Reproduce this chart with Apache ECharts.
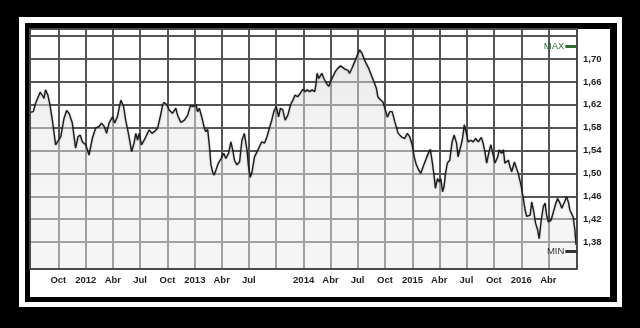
<!DOCTYPE html>
<html><head><meta charset="utf-8">
<script src="https://cdn.jsdelivr.net/npm/echarts@6/dist/echarts.min.js"></script>
<style>html,body{margin:0;padding:0;background:#000}#c{width:640px;height:328px}</style>
</head><body><div id="c"></div>
<script>
const dates = ['2011-06-30','2011-07-09','2011-07-17','2011-08-01','2011-08-08','2011-08-14','2011-08-19','2011-08-27','2011-09-03','2011-09-11','2011-09-22','2011-09-28','2011-10-09','2011-10-20','2011-10-29','2011-11-06','2011-11-11','2011-11-17','2011-11-23','2011-11-28','2011-12-06','2011-12-13','2011-12-21','2012-01-01','2012-01-12','2012-01-23','2012-02-03','2012-02-15','2012-02-23','2012-03-03','2012-03-11','2012-03-19','2012-03-31','2012-04-07','2012-04-16','2012-04-22','2012-04-28','2012-05-07','2012-05-14','2012-05-22','2012-05-29','2012-06-03','2012-06-11','2012-06-17','2012-06-23','2012-06-28','2012-07-06','2012-07-15','2012-07-26','2012-08-01','2012-08-10','2012-08-18','2012-08-29','2012-09-07','2012-09-15','2012-09-20','2012-09-29','2012-10-07','2012-10-18','2012-10-29','2012-11-04','2012-11-15','2012-11-27','2012-12-08','2012-12-17','2012-12-28','2013-01-05','2013-01-10','2013-01-16','2013-01-24','2013-02-02','2013-02-07','2013-02-13','2013-02-19','2013-02-24','2013-03-02','2013-03-07','2013-03-13','2013-03-21','2013-03-30','2013-04-08','2013-04-15','2013-04-24','2013-05-02','2013-05-08','2013-05-14','2013-05-22','2013-05-31','2013-06-08','2013-06-16','2013-06-25','2013-06-30','2013-07-06','2013-07-12','2013-07-20','2013-07-29','2013-08-06','2013-08-13','2013-08-23','2013-08-31','2013-09-08','2013-09-16','2013-09-23','2013-10-01','2013-10-09','2013-10-15','2013-10-23','2013-10-31','2013-11-09','2013-11-18','2013-11-26','2013-12-03','2013-12-12','2013-12-22','2013-12-29','2014-01-06','2014-01-13','2014-01-21','2014-01-29','2014-02-07','2014-02-12','2014-02-15','2014-02-21','2014-02-27','2014-03-03','2014-03-10','2014-03-18','2014-03-26','2014-04-01','2014-04-09','2014-04-17','2014-04-26','2014-05-05','2014-05-13','2014-05-21','2014-05-30','2014-06-04','2014-06-12','2014-06-21','2014-06-30','2014-07-08','2014-07-16','2014-07-22','2014-07-30','2014-08-07','2014-08-16','2014-08-25','2014-09-02','2014-09-07','2014-09-13','2014-09-19','2014-09-24','2014-10-02','2014-10-09','2014-10-17','2014-10-25','2014-11-03','2014-11-14','2014-11-25','2014-12-06','2014-12-15','2014-12-23','2014-12-31','2015-01-07','2015-01-14','2015-01-22','2015-01-29','2015-02-06','2015-02-14','2015-02-23','2015-03-02','2015-03-09','2015-03-15','2015-03-19','2015-03-26','2015-04-01','2015-04-06','2015-04-12','2015-04-17','2015-04-22','2015-04-28','2015-05-06','2015-05-14','2015-05-21','2015-05-29','2015-06-03','2015-06-09','2015-06-17','2015-06-24','2015-07-01','2015-07-07','2015-07-16','2015-07-24','2015-08-01','2015-08-10','2015-08-20','2015-08-26','2015-09-01','2015-09-07','2015-09-15','2015-09-21','2015-09-29','2015-10-05','2015-10-14','2015-10-19','2015-10-27','2015-11-02','2015-11-07','2015-11-13','2015-11-19','2015-11-24','2015-11-30','2015-12-09','2015-12-16','2015-12-22','2015-12-31','2016-01-08','2016-01-14','2016-01-19','2016-01-25','2016-01-31','2016-02-05','2016-02-11','2016-02-18','2016-02-25','2016-03-01','2016-03-08','2016-03-15','2016-03-21','2016-03-26','2016-04-01','2016-04-10','2016-04-18','2016-04-26','2016-05-02','2016-05-10','2016-05-16','2016-05-25','2016-06-01','2016-06-07','2016-06-12','2016-06-17','2016-06-23','2016-06-29','2016-07-03'];
const values = [1.607,1.608,1.623,1.642,1.637,1.631,1.646,1.637,1.620,1.593,1.550,1.555,1.564,1.596,1.610,1.605,1.605,1.588,1.564,1.544,1.564,1.567,1.555,1.550,1.532,1.561,1.579,1.582,1.588,1.582,1.570,1.588,1.599,1.588,1.599,1.614,1.628,1.617,1.593,1.573,1.553,1.538,1.553,1.570,1.558,1.570,1.550,1.558,1.570,1.576,1.570,1.573,1.579,1.599,1.620,1.624,1.620,1.611,1.605,1.614,1.602,1.589,1.593,1.602,1.618,1.617,1.620,1.608,1.614,1.599,1.579,1.573,1.577,1.547,1.515,1.502,1.497,1.495,1.518,1.526,1.535,1.526,1.535,1.555,1.541,1.523,1.515,1.520,1.558,1.570,1.541,1.512,1.493,1.503,1.529,1.538,1.547,1.555,1.553,1.564,1.579,1.593,1.608,1.617,1.599,1.614,1.611,1.593,1.602,1.620,1.628,1.637,1.634,1.641,1.647,1.643,1.646,1.643,1.646,1.643,1.658,1.675,1.666,1.669,1.675,1.666,1.658,1.652,1.660,1.669,1.678,1.684,1.688,1.685,1.682,1.680,1.675,1.684,1.695,1.707,1.716,1.710,1.701,1.692,1.684,1.672,1.660,1.649,1.634,1.630,1.628,1.625,1.611,1.598,1.608,1.608,1.590,1.570,1.564,1.561,1.570,1.564,1.550,1.529,1.515,1.506,1.500,1.512,1.523,1.535,1.542,1.518,1.494,1.474,1.491,1.485,1.491,1.468,1.477,1.500,1.518,1.523,1.555,1.567,1.553,1.529,1.526,1.558,1.585,1.570,1.555,1.558,1.555,1.561,1.555,1.563,1.553,1.538,1.518,1.538,1.550,1.532,1.518,1.529,1.541,1.535,1.541,1.518,1.520,1.523,1.512,1.503,1.520,1.509,1.500,1.480,1.456,1.436,1.425,1.424,1.427,1.450,1.436,1.413,1.401,1.386,1.418,1.442,1.448,1.427,1.415,1.418,1.433,1.448,1.456,1.448,1.439,1.450,1.459,1.450,1.436,1.433,1.424,1.401,1.375];

const xTickDates = ['2011-10-01','2012-01-01','2012-04-01','2012-07-01','2012-10-01','2013-01-01','2013-04-01','2013-07-01','2013-10-01','2014-01-01','2014-04-01','2014-07-01','2014-10-01','2015-01-01','2015-04-01','2015-07-01','2015-10-01','2016-01-01','2016-04-01'];
const xTickLabels = ['Oct','2012','Abr','Jul','Oct','2013','Abr','Jul','','2014','Abr','Jul','Oct','2015','Abr','Jul','Oct','2016','Abr'];
const yGridValues = [1.38,1.42,1.46,1.50,1.54,1.58,1.62,1.66,1.70,1.74];
const yLabelValues = [1.38,1.42,1.46,1.50,1.54,1.58,1.62,1.66,1.70];
const xRange = ['2011-06-28','2016-07-06'];
const yRange = [1.3328, 1.7525];
const maxMarker = 1.722, minMarker = 1.364;
const markerStart = '2016-05-28';

function toTs(s){const p=s.split('-').map(Number);return new Date(p[0],p[1]-1,p[2]).getTime();}
const xTickTs = xTickDates.map(toTs);
const labelMap = {};
xTickDates.forEach((d,i)=>{labelMap[toTs(d)] = xTickLabels[i];});
const xLabelTs = xTickTs.filter((t,i)=>xTickLabels[i] !== '');
const seriesData = dates.map((d,i)=>[toTs(d), values[i]]);

const labelFont = {color:'#1e1e1e', fontFamily:'Liberation Sans', fontWeight:'bold', fontSize:9.5};
const chart = echarts.init(document.getElementById('c'), null, {renderer:'canvas'});
chart.setOption({
  backgroundColor:'#000',
  animation:false,
  graphic:[
    {type:'rect', z:-100, shape:{x:19,y:17,width:603,height:290}, style:{fill:'#fff'}},
    {type:'rect', z:-99, shape:{x:25,y:23,width:592,height:279}, style:{fill:'#000'}},
    {type:'rect', z:-98, shape:{x:30,y:29,width:580,height:268}, style:{fill:'#fff'}}
  ],
  grid:{left:30, top:29, right:63, bottom:59, show:true, z:5, borderColor:'#4a4a4a', borderWidth:2, backgroundColor:'transparent'},
  xAxis:{
    type:'value', min:toTs(xRange[0]), max:toTs(xRange[1]),
    axisLine:{show:false},
    axisTick:{show:false, customValues:xTickTs},
    axisLabel:Object.assign({customValues:xLabelTs, formatter:v=>labelMap[v]||'', margin:6}, labelFont),
    splitLine:{show:true, lineStyle:{color:'#555', width:2}}
  },
  yAxis:{
    type:'value', position:'right', min:yRange[0], max:yRange[1],
    axisLine:{show:false},
    axisTick:{show:false, customValues:yGridValues},
    axisLabel:Object.assign({customValues:yLabelValues, formatter:v=>v.toFixed(2).replace('.',','), margin:6}, labelFont),
    splitLine:{show:true, lineStyle:{color:'#555', width:2}}
  },
  series:[{
    type:'line', data:seriesData, showSymbol:false, smooth:false,
    lineStyle:{color:'#1c1c1c', width:1.4, shadowColor:'rgba(0,0,0,0.3)', shadowBlur:2},
    areaStyle:{origin:'start', color:new echarts.graphic.LinearGradient(0,0,0,1,[
      {offset:0, color:'rgba(210,210,210,0.75)'},
      {offset:0.35, color:'rgba(232,232,232,0.72)'},
      {offset:1, color:'rgba(236,236,236,0.72)'}
    ])},
    markLine:{
      symbol:'none', silent:true, animation:false,
      data:[
        [{coord:[toTs(markerStart), maxMarker], lineStyle:{color:'#2e6b2e', width:3, type:'solid'},
          label:{show:true, position:'start', formatter:'MAX', color:'#2e6b2e', fontFamily:'Liberation Sans', fontSize:9.5, distance:1}},
         {coord:[toTs(xRange[1]), maxMarker]}],
        [{coord:[toTs(markerStart), minMarker], lineStyle:{color:'#333', width:3, type:'solid'},
          label:{show:true, position:'start', formatter:'MIN', color:'#333', fontFamily:'Liberation Sans', fontSize:9.5, distance:1}},
         {coord:[toTs(xRange[1]), minMarker]}]
      ]
    }
  }]
});
</script></body></html>
